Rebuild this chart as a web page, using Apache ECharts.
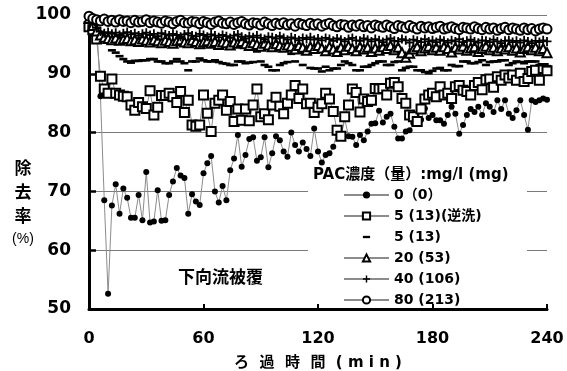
<!DOCTYPE html>
<html>
<head>
<meta charset="utf-8">
<script src="https://cdn.jsdelivr.net/npm/echarts@6/dist/echarts.min.js"></script>
<style>html,body{margin:0;padding:0;background:#fff}#main{width:567px;height:371px}</style>
</head>
<body>
<div id="main"></div>
<script>
// sampling times (min), one reading every 2 minutes
var minutes = [];
for (var m = 0; m <= 240; m += 2) minutes.push(m);

var seriesNames = ['0（0）', '5 (13)(逆洗)', '5 (13)', '20 (53)', '40 (106)', '80 (213)'];
var xTicks = [0, 60, 120, 180, 240];
var yTicks = [50, 60, 70, 80, 90, 100];

// PAC 0 mg/l
var pac0 = [99.6, 99.3, 98.8, 86.2, 68.5, 52.6, 67.6, 71.2, 66.2, 70.5, 68.9,
    65.5, 65.5, 69.4, 65.1, 73.3, 64.7, 64.9, 70.2, 65.0, 65.1,
    69.4, 71.7, 74.0, 72.7, 72.3, 66.2, 69.5, 68.3, 67.7, 73.1,
    74.8, 76.0, 70.0, 68.1, 70.9, 68.5, 73.6, 75.6, 79.6, 74.2,
    76.2, 78.9, 79.2, 75.2, 75.8, 79.2, 74.1, 76.5, 79.4, 78.7,
    76.8, 75.9, 80.0, 77.9, 76.8, 78.3, 77.2, 76.0, 80.7, 76.8,
    74.9, 76.2, 76.5, 77.6, 79.9, 79.2, 82.3, 79.4, 79.3, 77.9,
    79.6, 78.7, 80.2, 81.5, 81.6, 83.7, 81.7, 82.7, 83.2, 81.0,
    79.0, 79.0, 80.2, 80.4, 81.6, 82.5, 82.2, 84.1, 82.5, 83.0,
    82.1, 82.1, 81.5, 83.0, 84.4, 83.2, 79.8, 81.3, 83.0, 84.0,
    83.5, 84.4, 83.0, 85.0, 84.4, 83.5, 85.5, 84.0, 85.5, 83.2,
    82.5, 83.8, 85.5, 83.0, 80.5, 85.5, 85.2, 85.5, 85.8, 85.6];

// PAC 5 mg/l with backwash
var pac5bw = [98.0, 97.5, 95.9, 89.6, 87.4, 86.7, 89.1, 86.7, 86.4, 86.2, 86.1,
    84.7, 83.8, 85.1, 84.4, 84.1, 87.1, 83.0, 84.3, 86.3, 86.3,
    86.7, 86.1, 85.1, 87.0, 83.4, 85.5, 81.3, 81.1, 81.3, 86.4,
    83.3, 80.2, 85.0, 85.5, 86.4, 83.8, 85.3, 81.9, 84.0, 82.1,
    84.0, 82.0, 84.7, 87.4, 82.7, 83.2, 82.2, 84.7, 86.0, 84.5,
    83.2, 85.0, 86.4, 88.0, 85.8, 87.4, 84.9, 85.0, 83.4, 84.3,
    84.9, 86.7, 85.7, 83.6, 80.4, 79.4, 82.7, 84.7, 87.4, 86.8,
    83.5, 85.7, 85.3, 85.5, 87.5, 87.4, 87.5, 86.4, 88.4, 88.5,
    87.8, 85.8, 85.0, 83.0, 82.7, 81.9, 84.0, 85.7, 86.4, 86.7,
    86.1, 87.8, 86.4, 86.7, 85.8, 87.8, 88.0, 87.2, 87.0, 86.4,
    88.0, 88.5, 87.3, 89.0, 89.1, 87.7, 89.5, 88.9, 89.8, 89.3,
    89.8, 88.9, 90.1, 88.7, 89.2, 90.4, 90.6, 88.9, 90.9, 90.5];

// PAC 5 mg/l
var pac5 = [99.5, 98.6, 97.8, 96.9, 96.2, 95.3, 94.0, 93.6, 93.0, 92.5, 92.1,
    91.9, 92.2, 92.2, 92.3, 92.3, 92.5, 92.5, 92.1, 92.1, 91.8,
    91.8, 92.1, 92.5, 92.1, 91.8, 90.6, 92.1, 92.1, 92.6, 92.3,
    92.1, 92.1, 92.3, 92.0, 91.8, 91.7, 91.5, 91.5, 92.1, 92.1,
    91.8, 91.9, 92.0, 93.8, 92.1, 91.5, 91.2, 90.6, 90.6, 91.5,
    91.8, 92.0, 93.4, 92.1, 93.6, 91.5, 93.5, 91.0, 90.9, 90.9,
    90.4, 91.2, 90.6, 90.9, 90.9, 91.5, 92.1, 91.8, 91.5, 90.6,
    90.6, 91.2, 91.2, 91.5, 91.8, 92.1, 92.1, 91.5, 91.5, 92.0,
    92.1, 90.6, 91.0, 91.2, 91.2, 90.6, 90.6, 90.3, 90.1, 90.5,
    90.9, 91.0, 90.6, 90.6, 91.5, 91.3, 91.3, 92.1, 92.1, 91.8,
    91.8, 92.0, 92.3, 91.5, 92.0, 92.1, 92.1, 92.3, 92.3, 91.5,
    91.8, 92.1, 92.0, 91.8, 92.1, 92.1, 92.1, 91.5, 91.5, 91.3];

// PAC 20 mg/l
var pac20 = [99.4, 98.2, 97.3, 96.6, 96.2, 96.0, 95.8, 96.1, 95.7, 95.9, 96.0,
    95.6, 95.8, 95.5, 95.9, 95.7, 95.4, 95.8, 95.6, 95.3, 95.7,
    95.5, 95.2, 95.6, 95.8, 95.4, 95.3, 95.7, 95.5, 95.1, 95.4,
    95.6, 95.2, 95.5, 95.0, 95.4, 95.3, 94.9, 95.4, 95.2, 95.5,
    95.1, 94.8, 95.3, 95.0, 94.7, 95.2, 94.9, 94.6, 95.1, 94.8,
    94.5, 94.9, 94.7, 94.2, 94.8, 94.5, 94.0, 94.6, 94.3, 94.8,
    94.4, 93.9, 94.6, 94.2, 93.8, 94.5, 94.1, 94.7, 94.3, 93.9,
    94.6, 94.2, 94.5, 93.8, 94.4, 94.0, 94.6, 94.3, 94.8, 94.1,
    94.5, 93.6, 92.8, 93.5, 94.2, 94.6, 93.9, 94.4, 94.7, 94.1,
    94.5, 94.0, 94.6, 94.3, 93.7, 94.5, 94.2, 94.7, 94.0, 94.4,
    94.6, 93.8, 94.3, 94.7, 94.1, 94.5, 93.9, 94.4, 94.2, 94.6,
    94.0, 94.4, 93.7, 94.3, 94.6, 94.1, 94.5, 93.9, 94.3, 93.6];

// PAC 40 mg/l
var pac40 = [99.6, 98.5, 97.8, 97.2, 96.9, 97.1, 96.8, 97.0, 96.6, 96.9, 97.1,
    96.7, 96.9, 96.5, 96.8, 97.0, 96.6, 96.8, 96.4, 96.9, 96.7,
    96.5, 96.8, 96.6, 96.3, 96.7, 96.9, 96.5, 96.4, 96.8, 96.6,
    96.3, 96.7, 96.5, 96.2, 96.6, 96.4, 96.1, 96.5, 96.7, 96.3,
    96.0, 96.4, 96.2, 96.5, 96.1, 95.9, 96.3, 96.2, 96.0, 96.4,
    96.1, 95.8, 96.2, 96.0, 95.7, 96.1, 95.9, 96.2, 95.8, 96.0,
    95.7, 96.1, 95.9, 95.6, 96.0, 95.8, 95.5, 95.9, 96.1, 95.7,
    95.6, 96.0, 95.8, 95.5, 95.9, 95.7, 95.4, 95.8, 96.0, 95.6,
    95.5, 95.9, 95.7, 95.3, 95.8, 95.6, 95.4, 95.9, 95.5, 95.7,
    95.4, 95.8, 95.6, 95.3, 95.7, 95.5, 95.9, 95.4, 95.6, 95.8,
    95.5, 95.3, 95.7, 95.6, 95.4, 95.8, 95.5, 95.2, 95.6, 95.7,
    95.4, 95.6, 95.3, 95.7, 95.5, 95.2, 95.6, 95.4, 95.7, 95.5];

// PAC 80 mg/l
var pac80 = [99.8, 99.4, 99.2, 99.0, 99.3, 98.9, 99.1, 98.8, 99.2, 98.9, 99.0,
    98.7, 99.1, 98.8, 98.9, 99.2, 98.7, 99.0, 98.8, 98.6, 99.0,
    98.8, 98.5, 98.9, 99.1, 98.7, 98.6, 98.9, 98.8, 98.5, 98.9,
    98.7, 98.4, 98.8, 99.0, 98.6, 98.5, 98.8, 98.4, 98.7, 98.9,
    98.5, 98.3, 98.7, 98.6, 98.3, 98.8, 98.5, 98.2, 98.6, 98.4,
    98.7, 98.3, 98.5, 98.1, 98.6, 98.4, 98.2, 98.6, 98.3, 98.5,
    98.1, 98.4, 98.6, 98.2, 98.0, 98.4, 98.3, 97.9, 98.3, 98.1,
    98.4, 98.0, 98.2, 97.8, 98.3, 98.1, 97.9, 98.3, 98.0, 97.7,
    98.2, 98.0, 97.8, 98.2, 97.9, 97.6, 98.1, 97.8, 98.0, 97.7,
    97.9, 98.1, 97.6, 97.8, 98.0, 97.7, 97.5, 97.9, 97.8, 97.6,
    98.0, 97.7, 97.5, 97.9, 97.6, 97.8, 97.4, 97.7, 97.9, 97.5,
    97.8, 97.6, 97.4, 97.8, 97.5, 97.7, 97.3, 97.6, 97.8, 97.6];

function pairs(vals) {
    return vals.map(function (v, i) { return [minutes[i], v]; });
}

var numFont = '"DejaVu Sans", "Noto Sans CJK JP", sans-serif';
var cjkFont = '"Noto Sans CJK JP", "DejaVu Sans", sans-serif';
var lineGray = '#8c8c8c';
// dash marker padded to a square box so it keeps its shape in the legend too
var dashSymbol = 'path://M0,0M8,8M0,2.7h8v2.6h-8z';
var plusSymbol = 'path://M4,0h2v4h4v2h-4v4h-2v-4h-4v-2h4z';

var myChart = echarts.init(document.getElementById('main'));

var option = {
    animation: false,
    backgroundColor: '#fff',
    grid: { left: 89, right: 20, top: 15, bottom: 62, outerBoundsMode: 'none' },
    xAxis: {
        type: 'value',
        min: xTicks[0],
        max: xTicks[xTicks.length - 1],
        interval: xTicks[1] - xTicks[0],
        name: 'ろ  過  時  間  ( m i n )',
        nameLocation: 'middle',
        nameGap: 47,
        nameTextStyle: { color: '#000', fontSize: 15, fontWeight: 'bold', fontFamily: numFont },
        axisLine: { lineStyle: { color: '#000', width: 3 } },
        axisTick: { inside: true, length: 5, lineStyle: { color: '#000', width: 2 } },
        axisLabel: { margin: 22, color: '#000', fontSize: 16, fontWeight: 'bold', fontFamily: numFont },
        splitLine: { show: false }
    },
    yAxis: {
        type: 'value',
        min: yTicks[0],
        max: yTicks[yTicks.length - 1],
        interval: yTicks[1] - yTicks[0],
        axisLine: { show: true, lineStyle: { color: '#000', width: 3 } },
        axisTick: { show: true, inside: true, length: 7, lineStyle: { color: '#000', width: 2.5 } },
        axisLabel: { margin: 18, color: '#000', fontSize: 17, fontWeight: 'bold', fontFamily: numFont },
        splitLine: { show: true, lineStyle: { color: '#7a7a7a', width: 1 } }
    },
    legend: {
        left: 343,
        top: 188,
        orient: 'vertical',
        padding: 0,
        itemWidth: 45,
        itemHeight: 9,
        itemGap: 7,
        selectedMode: false,
        textStyle: { color: '#000', fontSize: 14, fontWeight: 'bold', fontFamily: numFont, lineHeight: 14 },
        data: seriesNames
    },
    graphic: [
        { type: 'rect', z: 1, shape: { x: 308, y: 189, width: 219, height: 5 }, style: { fill: '#fff' } },
        { type: 'rect', z: 1, shape: { x: 308, y: 248, width: 219, height: 5 }, style: { fill: '#fff' } },
        { type: 'text', x: 313, y: 175, style: { text: 'PAC濃度（量）:mg/l (mg)', font: 'bold 15px ' + numFont, fill: '#000', verticalAlign: 'middle' } },
        { type: 'text', x: 178, y: 277, style: { text: '下向流被覆', font: 'bold 17px ' + cjkFont, fill: '#000', verticalAlign: 'middle' } },
        { type: 'text', x: 23, y: 168, style: { text: '除', font: 'bold 17px ' + cjkFont, fill: '#000', align: 'center', verticalAlign: 'middle' } },
        { type: 'text', x: 23, y: 192, style: { text: '去', font: 'bold 17px ' + cjkFont, fill: '#000', align: 'center', verticalAlign: 'middle' } },
        { type: 'text', x: 23, y: 216, style: { text: '率', font: 'bold 17px ' + cjkFont, fill: '#000', align: 'center', verticalAlign: 'middle' } },
        { type: 'text', x: 23, y: 239, style: { text: '(%)', font: '14px "Liberation Sans", sans-serif', fill: '#000', align: 'center', verticalAlign: 'middle' } }
    ],
    series: [{
        name: seriesNames[0],
        type: 'line',
        data: pairs(pac0),
        symbol: 'circle',
        symbolSize: 6,
        itemStyle: { color: '#000' },
        lineStyle: { color: lineGray, width: 1 }
    }, {
        name: seriesNames[1],
        type: 'line',
        data: pairs(pac5bw),
        symbol: 'emptyRect',
        symbolSize: 9,
        itemStyle: { color: '#000', borderWidth: 1.5 },
        lineStyle: { color: lineGray, width: 1 }
    }, {
        name: seriesNames[2],
        type: 'line',
        data: pairs(pac5),
        symbol: dashSymbol,
        symbolSize: 8,
        itemStyle: { color: '#000' },
        lineStyle: { width: 0, opacity: 0 }
    }, {
        name: seriesNames[3],
        type: 'line',
        data: pairs(pac20),
        symbol: 'emptyTriangle',
        symbolSize: 9,
        itemStyle: { color: '#000', borderWidth: 1.5 },
        lineStyle: { color: lineGray, width: 1 }
    }, {
        name: seriesNames[4],
        type: 'line',
        data: pairs(pac40),
        symbol: plusSymbol,
        symbolSize: 9,
        itemStyle: { color: '#000' },
        lineStyle: { color: lineGray, width: 1 }
    }, {
        name: seriesNames[5],
        type: 'line',
        data: pairs(pac80),
        symbol: 'emptyCircle',
        symbolSize: 9,
        itemStyle: { color: '#000', borderWidth: 1.5 },
        lineStyle: { color: lineGray, width: 1 }
    }]
};

myChart.setOption(option);
</script>
</body>
</html>
